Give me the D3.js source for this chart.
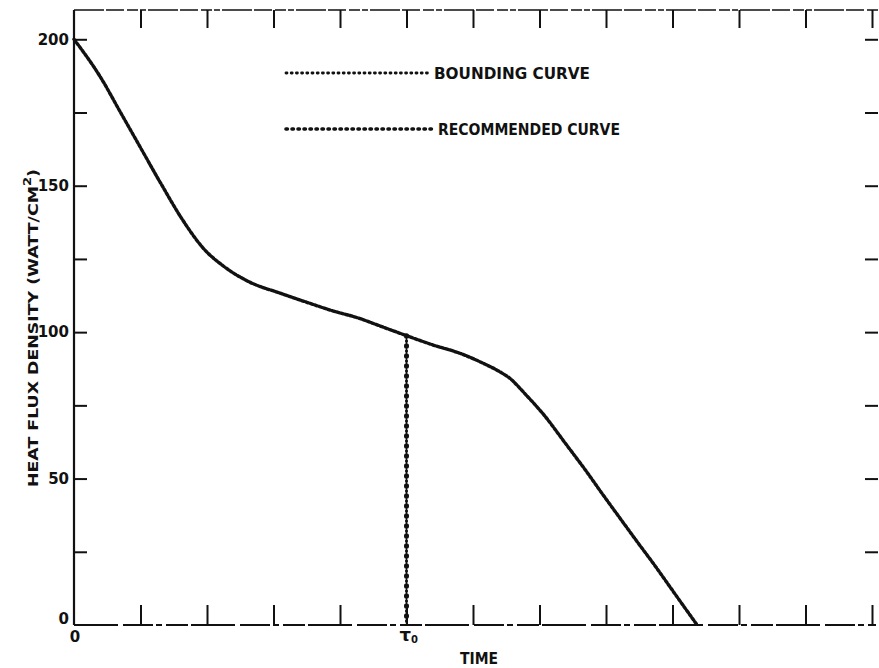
<!DOCTYPE html>
<html>
<head>
<meta charset="utf-8">
<script src="https://cdn.jsdelivr.net/npm/d3@7"></script>
<style>
  html, body { margin: 0; padding: 0; background: #fff; }
  svg { display: block; }
  text { fill: #111; }
</style>
</head>
<body>
<svg id="chart" width="879" height="668"></svg>
<script>
// Heat flux density (W/cm^2) against time, in units of the time-axis tick spacing
const time = [0, 0.4, 0.7, 1.0, 1.3, 1.6, 1.95, 2.25, 2.65, 3.1, 3.5, 3.9, 4.25, 4.65, 5.0,
              5.4, 5.8, 6.15, 6.4, 6.55, 6.8, 7.05, 7.4, 7.7, 7.95, 8.2, 8.45, 8.75, 8.95, 9.15, 9.37];
const flux = [200, 187, 175, 163, 151, 139.5, 128.5, 122.5, 117, 113.3, 110.2, 107.2, 105, 101.7, 98.8,
              95.6, 92.8, 89.4, 86.5, 84.3, 78.5, 72.2, 61.7, 52.6, 44.6, 36.8, 29, 19.8, 13.4, 7.0, 0];
const tau0 = 5;                       // cut-off time of the recommended curve
const yTicks = [0, 25, 50, 75, 100, 125, 150, 175, 200];
const yLabels = [0, 50, 100, 150, 200];
const xTicks = [1, 2, 3, 4, 5, 6, 7, 8, 9, 10, 11, 12];
const legendNames = ["BOUNDING CURVE", "RECOMMENDED CURVE"];

const svg = d3.select("#chart");
const plotLeft = 74, plotRight = 872, plotTop = 10, plotBottom = 625;

const x = d3.scaleLinear().domain([0, 12]).range([plotLeft, plotRight]);
const y = d3.scaleLinear().domain([0, 210]).range([plotBottom, plotTop]);

const ink = "#111";
const font = "'DejaVu Sans', sans-serif";

// ---- frame ----
// left axis: solid
svg.append("line").attr("x1", plotLeft).attr("x2", plotLeft).attr("y1", plotTop).attr("y2", plotBottom)
  .attr("stroke", ink).attr("stroke-width", 2.2);
// top border: broken dashes
svg.append("line").attr("x1", plotLeft).attr("x2", 879).attr("y1", plotTop).attr("y2", plotTop)
  .attr("stroke", ink).attr("stroke-width", 1.6).attr("stroke-dasharray", "30 2 18 3 11 2 6 2");
// bottom axis: broken dashes
svg.append("line").attr("x1", plotLeft).attr("x2", plotRight + 4).attr("y1", plotBottom).attr("y2", plotBottom)
  .attr("stroke", ink).attr("stroke-width", 1.8).attr("stroke-dasharray", "44 5 30 3 6 4 22 3");

// bottom ticks (pointing up)
const bottomAxis = svg.append("g").attr("transform", `translate(0,${plotBottom})`)
  .call(d3.axisBottom(x).tickValues(xTicks).tickSize(-20).tickFormat(""));
// top ticks (pointing down)
const topAxis = svg.append("g").attr("transform", `translate(0,${plotTop})`)
  .call(d3.axisTop(x).tickValues(xTicks).tickSize(-18).tickFormat(""));
// left ticks with labels every 50
const leftAxis = svg.append("g").attr("transform", `translate(${plotLeft},0)`)
  .call(d3.axisLeft(y).tickValues(yTicks.filter(d => d > 0)).tickSize(-13).tickPadding(5)
    .tickFormat(d => yLabels.includes(d) ? d : ""));
// right ticks
const rightAxis = svg.append("g").attr("transform", `translate(878,0)`)
  .call(d3.axisRight(y).tickValues(yTicks.filter(d => d > 0)).tickSize(-13).tickFormat(""));

[bottomAxis, topAxis, leftAxis, rightAxis].forEach(g => {
  g.select(".domain").remove();
  g.selectAll(".tick line").attr("stroke", ink).attr("stroke-width", 2);
});
leftAxis.selectAll(".tick text")
  .attr("font-family", font).attr("font-weight", "bold").attr("font-size", 15)
  .attr("fill", ink);

// zero labels at the origin
svg.append("text").attr("x", plotLeft - 5).attr("y", plotBottom - 1)
  .attr("text-anchor", "end").attr("font-family", font).attr("font-weight", "bold")
  .attr("font-size", 15).text("0");
svg.append("text").attr("x", x(0) + 1).attr("y", plotBottom + 17)
  .attr("text-anchor", "middle").attr("font-family", font).attr("font-weight", "bold")
  .attr("font-size", 15).text("0");

// tau-zero label
const tauLabel = svg.append("text").attr("x", x(tau0) - 7).attr("y", plotBottom + 16)
  .attr("font-family", font).attr("font-weight", "bold").attr("font-size", 18).text("τ");
tauLabel.append("tspan").attr("dy", 2).attr("font-size", 10).text("0");

// axis titles
svg.append("text").attr("x", 479).attr("y", 664).attr("text-anchor", "middle")
  .attr("font-family", font).attr("font-weight", "bold").attr("font-size", 15)
  .attr("textLength", 38).attr("lengthAdjust", "spacingAndGlyphs").text("TIME");

const yTitle = svg.append("text")
  .attr("transform", "translate(38,328) rotate(-90)")
  .attr("text-anchor", "middle")
  .attr("font-family", font).attr("font-weight", "bold").attr("font-size", 14.5)
  .attr("textLength", 318).attr("lengthAdjust", "spacingAndGlyphs");
yTitle.append("tspan").text("HEAT FLUX DENSITY  (WATT/CM");
yTitle.append("tspan").attr("dy", -7).attr("font-size", 11).text("2");
yTitle.append("tspan").attr("dy", 7).text(")");

// ---- curves ----
const pts = time.map((t, i) => [t, flux[i]]);
const line = d3.line().x(d => x(d[0])).y(d => y(d[1])).curve(d3.curveMonotoneX);

// bounding curve: full path, dense small dots
svg.append("path").datum(pts).attr("d", line)
  .attr("fill", "none").attr("stroke", ink).attr("stroke-width", 3.4)
  .attr("stroke-linecap", "round").attr("stroke-dasharray", "2.6 2");

// recommended curve: follows the bounding curve up to tau0, then drops to zero
const recPts = pts.filter(d => d[0] <= tau0);
const tauFlux = recPts[recPts.length - 1][1];
const drop = [[tau0, tauFlux], [tau0, 0]];
const straight = d3.line().x(d => x(d[0])).y(d => y(d[1]));
svg.append("path").datum(drop).attr("d", straight)
  .attr("fill", "none").attr("stroke", ink).attr("stroke-width", 1.3);
svg.append("path").datum(drop).attr("d", straight)
  .attr("fill", "none").attr("stroke", ink).attr("stroke-width", 5)
  .attr("stroke-linecap", "round").attr("stroke-dasharray", "0.6 9.4");
svg.append("path").datum(drop).attr("d", straight)
  .attr("fill", "none").attr("stroke", ink).attr("stroke-width", 3)
  .attr("stroke-linecap", "round").attr("stroke-dasharray", "0.6 9.4")
  .attr("stroke-dashoffset", 5);

// ---- legend ----
const legend = svg.append("g");
const legendRows = [
  { name: legendNames[0], y: 73, x2: 430, width: 2.8, dash: "1 4.2", textX: 434, base: 79, len: 156 },
  { name: legendNames[1], y: 129, x2: 432, width: 3.6, dash: "1.4 4.6", textX: 438, base: 135, len: 182 }
];
legendRows.forEach(r => {
  legend.append("line").attr("x1", 286).attr("x2", r.x2).attr("y1", r.y).attr("y2", r.y)
    .attr("stroke", ink).attr("stroke-width", r.width)
    .attr("stroke-linecap", "round").attr("stroke-dasharray", r.dash);
  legend.append("text").attr("x", r.textX).attr("y", r.base)
    .attr("font-family", font).attr("font-weight", "bold").attr("font-size", 15)
    .attr("textLength", r.len).attr("lengthAdjust", "spacingAndGlyphs")
    .text(r.name);
});
</script>
</body>
</html>
